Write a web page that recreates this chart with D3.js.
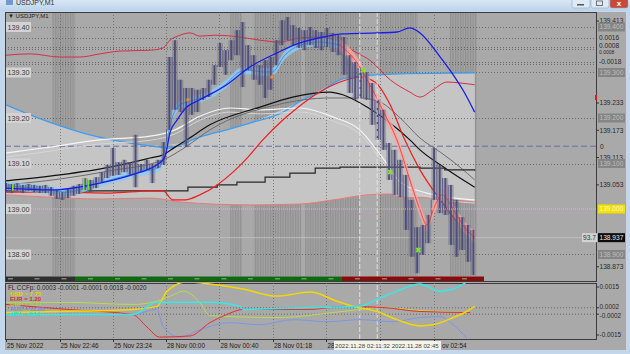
<!DOCTYPE html>
<html>
<head>
<meta charset="utf-8">
<script src="https://cdnjs.cloudflare.com/ajax/libs/d3/7.8.5/d3.min.js"></script>
<style>
html, body { margin: 0; padding: 0; background: #c7d9ec; }
svg { display: block; font-family: "Liberation Sans", Arial, sans-serif; }
</style>
</head>
<body>
<svg id="chart" width="630" height="354"></svg>
<script>
// ---- data (bar index 0..83, ~4 min per bar) ----
var barHigh = [139.057,139.055,139.057,139.053,139.055,139.053,139.051,139.053,139.048,139.042,
  139.037,139.046,139.051,139.055,139.068,139.064,139.070,139.081,139.097,139.134,
  139.103,139.108,139.103,139.163,139.099,139.108,139.099,139.108,139.147,139.334,
  139.371,139.284,139.266,139.266,139.262,139.266,139.284,139.316,139.365,139.349,
  139.371,139.393,139.411,139.360,139.338,139.316,139.327,139.334,139.371,139.415,
  139.422,139.404,139.398,139.393,139.400,139.393,139.389,139.398,139.387,139.382,
  139.378,139.338,139.323,139.310,139.301,139.277,139.240,139.218,139.145,139.130,
  139.108,139.075,139.020,138.960,138.965,138.987,139.134,139.097,139.068,139.053,
  139.020,138.982,138.965,138.954];
var barLow = [139.037,139.035,139.040,139.035,139.040,139.037,139.035,139.035,139.029,139.022,
  139.020,139.024,139.029,139.033,139.042,139.037,139.046,139.059,139.068,139.073,
  139.075,139.081,139.075,139.048,139.081,139.086,139.057,139.090,139.097,139.174,
  139.218,139.213,139.136,139.207,139.213,139.240,139.246,139.273,139.312,139.295,
  139.327,139.338,139.268,139.305,139.284,139.273,139.244,139.262,139.316,139.360,
  139.371,139.360,139.354,139.349,139.360,139.354,139.349,139.356,139.345,139.338,
  139.295,139.255,139.240,139.244,139.240,139.185,139.152,139.130,139.064,139.031,
  139.026,138.954,138.895,138.859,138.899,138.925,139.020,138.991,138.987,138.921,
  138.895,138.910,138.884,138.855];

// overlay lines: [bar index, price]
var bandUpper = [[0,139.229],[6.6,139.196],[14.9,139.163],[22,139.145],[27.3,139.136],[28.6,139.134],
  [34.4,139.158],[40.3,139.178],[43.3,139.189],[49.2,139.213],[52.7,139.240],[55.7,139.257],
  [59.3,139.284],[62.8,139.292],[70,139.297],[83.2,139.299]];
var bandLower = [[0,139.031],[7.8,139.026],[16.7,139.022],[25.6,139.024],[31.4,139.015],[43.3,139.009],
  [52.2,139.011],[58.1,139.020],[64.1,139.031],[68.2,139.033],[70,139.026],[75.8,139.024],[83.2,139.015]];
var redUpper = [[0,139.338],[4.3,139.341],[9.6,139.334],[13.1,139.334],[16.7,139.341],[20.2,139.347],
  [25.6,139.349],[27.9,139.354],[29.1,139.371],[30.5,139.380],[32.7,139.387],[34.4,139.380],
  [37.1,139.382],[41.5,139.378],[45.1,139.371],[48.6,139.367],[52.2,139.376],[55.7,139.378],
  [59.3,139.365],[62,139.345],[64.6,139.327],[68.2,139.284],[71.7,139.257],[73.5,139.246],
  [75.8,139.262],[78.3,139.279],[80.6,139.277],[83.2,139.273]];
var redSlow = [[0,139.037],[9.6,139.037],[18.5,139.035],[25.6,139.040],[27.9,139.040],[29.6,139.020],
  [31.8,139.020],[34.4,139.031],[37.5,139.053],[40.3,139.081],[42.8,139.112],[45.6,139.152],
  [49.2,139.196],[51.7,139.222],[55.7,139.257],[59.3,139.279],[62.8,139.290],[65.5,139.279],
  [68.2,139.229],[70.8,139.152],[73.5,139.086],[77.1,139.020],[80.6,138.965],[83.2,138.938]];
var maBlack = [[0,139.062],[9.6,139.075],[18.5,139.092],[25.6,139.112],[27.9,139.119],[30,139.136],
  [32.1,139.152],[36.2,139.185],[45.1,139.224],[50.9,139.246],[57.5,139.257],[59.8,139.251],
  [64.1,139.224],[68.2,139.189],[71.7,139.152],[73.5,139.130],[77.1,139.097],[80.6,139.068],[83.2,139.048]];
var maGray = [[0,139.053],[9.6,139.066],[18.5,139.084],[27.9,139.108],[32.1,139.138],[36.2,139.174],
  [48.1,139.229],[57.5,139.244],[62.8,139.244],[66.4,139.235],[70,139.200],[73.5,139.156],
  [77.1,139.125],[80.6,139.092],[83.2,139.064]];
var maWhite = [[0,139.123],[6.6,139.134],[16.7,139.152],[25.6,139.160],[30,139.174],[34.4,139.204],
  [39.8,139.222],[45.1,139.218],[52.2,139.222],[58.1,139.202],[62.8,139.174],[66.9,139.112],
  [70,139.059],[74.7,139.035],[83.2,139.020]];
var maSilver = [[0,139.114],[6.6,139.125],[16.7,139.143],[25.6,139.151],[30,139.165],[34.4,139.195],
  [39.8,139.213],[45.1,139.209],[52.2,139.213],[58.1,139.193],[62.8,139.165],[66.9,139.103],
  [70,139.050],[74.7,139.028],[83.2,139.013]];
var stepLine = [[0,139.040],[32.3,139.048],[37.5,139.053],[41,139.059],[46,139.070],[50.4,139.079],
  [54.9,139.090],[59.3,139.092],[73.5,139.090],[77.9,139.086],[83.2,139.084]];
var blueLine = [[0,139.046],[7.8,139.042],[16.7,139.057],[23.8,139.081],[26.8,139.097],[28.2,139.114],
  [29.1,139.167],[30.4,139.196],[32.1,139.224],[34.4,139.240],[39.2,139.273],[43.3,139.312],
  [48.1,139.343],[51.7,139.363],[56.3,139.378],[59.8,139.385],[65.9,139.387],[69.4,139.389],
  [71.7,139.398],[73.5,139.387],[77.1,139.334],[79.4,139.295],[81.1,139.262],[83.2,139.213]];
var blueRibbon = [[0,139.051],[4.3,139.046],[7.8,139.042],[10.8,139.037],[14.9,139.051],[18.5,139.064],
  [23.8,139.081],[27.3,139.092],[28.2,139.130],[29.5,139.200],[30.9,139.229],[33.6,139.240],
  [36.2,139.251],[38.9,139.273],[41.5,139.301],[43.3,139.305],[45.5,139.301],[47.2,139.301],
  [49.5,139.338],[52.2,139.360],[55.7,139.367],[59.3,139.360]];
var salmonRibbon = [[59.3,139.360],[62,139.327],[64.6,139.273],[67.3,139.207],[69.4,139.152],
  [71.7,139.064],[73.5,138.998],[74.7,138.965],[76.2,139.009],[77.4,139.031],[79.7,138.993],
  [81.5,138.958],[83.2,138.938]];
var greenMarks = [[63.4,139.305],[68.2,139.081],[73.2,138.910]];
var greenBars = [[1.2,139.055,139.040],[13.8,139.068,139.040],[14.6,139.064,139.042]];
var orangeMarks = [[32.3,139.240],[47.2,139.290]];

// session shading (bar index ranges)
var shadeRanges = [[8.2,12.3],[39.8,41.9],[44,52.4],[53.1,62.7],[66.4,73.1],[78.8,83.6]];

// price levels
var leftLabels = [139.40, 139.30, 139.20, 139.10, 139.00, 138.90];
var rightPlain = [139.413, 139.233, 139.173, 139.113, 139.053, 138.873];
var rightBoxed = [139.400, 139.300, 139.200, 139.100, 138.900];
var levelPrice = 139.000, bidPrice = 138.937, zeroLevel = 139.138;
var overlayLevels = [139.376, 139.356, 139.352, 139.323, 139.319];
var overlayLabels = ["0.0016", "0.0008", "0.0008", "-0.0018", ""];

// time axis (visible text only; the tooltip hides the rest)
var timeTicks = [0, 9.5, 19, 28.4, 37.9, 47.4, 56.9, 66.4, 75.9];
var timeLabels = ["25 Nov 2022", "25 Nov 22:46", "25 Nov 23:24", "28 Nov 00:00", "28 Nov 00:40",
  "28 Nov 01:18", "28", "", "ov 02:54"];
var tooltipText = "2022.11.28 02:11:32 2022.11.28 02:45";
var vlines = [62.8, 65.9];

// CCFp indicator: [bar index, value]
var ccfUSD = [[0,-0.0001],[9.6,-0.00003],[22.5,0.0001],[26.8,0.00029],[28.6,0.00124],[32.1,0.00182],
  [36.2,0.00169],[42.1,0.00137],[48.1,0.00093],[54,0.00118],[58.8,0.00061],[61.6,0.00029],
  [65.9,-0.00003],[69.4,-0.00054],[73.5,-0.00093],[75.8,-0.00086],[79.4,-0.00041],[81.8,-0.00003],[83.2,0.00029]];
var ccfEUR = [[0,0.00041],[10.8,0.0001],[22.5,-0.00022],[25,-0.00099],[27.3,-0.00163],[32.7,-0.00156],
  [36.2,-0.00073],[39.2,-0.00022],[42.1,0.0001],[54,0.0001],[59.8,0.00029],[66.9,0.00022],
  [73.5,-0.00003],[82.4,-0.0001]];
var ccfGBP = [[0,0.00054],[10.8,0.00054],[22.5,0.00041],[26.8,0.00061],[30,0.00105],[31.4,0.00124],
  [34.4,0.00054],[36.2,-0.00029],[48.1,-0.00041],[59.8,-0.00003],[66.9,0.00022],[73.5,0.00003],[82.4,-0.0001]];
var ccfAUD = [[0,-0.00022],[22.5,-0.00022],[26.8,0.0001],[27.9,-0.00099],[30.9,-0.00163],[34.4,-0.00118],
  [39.8,-0.00073],[45.1,-0.00086],[50.9,-0.00054],[57,-0.00067],[62.8,-0.00054],[68.7,-0.00067],
  [73.5,-0.00041],[77.1,-0.00035],[79.4,-0.00086],[81.8,-0.00169]];
var ccfJPY = [[0,-0.00022],[22.5,-0.00022],[26.8,0.00054],[36.2,0.00054],[41.5,0.00029],[42.1,0.0001],
  [54,0.00022],[62.8,0.00029],[65.9,0.00073],[69.4,0.00124],[73.5,0.00169],[77.1,0.00124],
  [79.4,0.00137],[81.8,0.00182]];
var ccfNames = ["USD = 7.75", "EUR = 1.20", "GBP = 6.14", "AUD = 11.80", "JPY = 4.10"];
var ccfColors = ["#f5d800", "#f02828", "#b8dc50", "#7c96e6", "#36e8e8"];
var ccfTicks = [0.0015, 0.0002, -0.0002, -0.0015];

// ---- drawing ----
var svg = d3.select("#chart");
var L = 5, R = 596, T = 12, B = 281, IT = 283, IB = 339;

var x = d3.scaleLinear().domain([0, 83]).range([6, 473.5]);
var y = d3.scaleLinear().domain([139.0, 139.4]).range([209, 27]);
var yi = d3.scaleLinear().domain([-0.0015, 0.0015]).range([335, 287]);

// window frame + title bar
var defs = svg.append("defs");
var grad = defs.append("linearGradient").attr("id", "tb").attr("x1", 0).attr("x2", 0).attr("y1", 0).attr("y2", 1);
grad.append("stop").attr("offset", 0).attr("stop-color", "#d9e7f5");
grad.append("stop").attr("offset", 1).attr("stop-color", "#bcd2ea");
svg.append("rect").attr("width", 630).attr("height", 354).attr("fill", "#c3d7ec");
svg.append("rect").attr("width", 630).attr("height", 11).attr("fill", "url(#tb)");
svg.append("text").attr("x", 16).attr("y", 5).attr("font-size", 7).attr("fill", "#333").text("USDJPY,M1");
svg.append("rect").attr("x", 6).attr("y", -1).attr("width", 7).attr("height", 6).attr("fill", "#6f9bd0");
[[572, "#dfe9f5"], [591, "#dfe9f5"], [610, "#c9483a"]].forEach(function(b) {
  svg.append("rect").attr("x", b[0]).attr("y", -2).attr("width", 18).attr("height", 10).attr("rx", 2)
    .attr("fill", b[1]).attr("stroke", "#8ea7c4").attr("stroke-width", 0.6);
});
svg.append("rect").attr("x", 577).attr("y", 4).attr("width", 7).attr("height", 1.5).attr("fill", "#555");
svg.append("rect").attr("x", 596.5).attr("y", 1).attr("width", 6).attr("height", 4.5).attr("fill", "none").attr("stroke", "#555").attr("stroke-width", 0.8);
svg.append("text").attr("x", 619).attr("y", 6).attr("text-anchor", "middle").attr("font-size", 8)
  .attr("font-weight", "bold").attr("fill", "#fff").text("x");

// chart area background
svg.append("rect").attr("x", L).attr("y", T).attr("width", 621).attr("height", 338).attr("fill", "#a9a9a9");

var pat = defs.append("pattern").attr("id", "stripes").attr("patternUnits", "userSpaceOnUse")
  .attr("width", 2.5).attr("height", 10);
pat.append("rect").attr("width", 2.5).attr("height", 10).attr("fill", "#a2a2a2");
pat.append("rect").attr("width", 1.2).attr("height", 10).attr("fill", "#929292");
defs.append("clipPath").attr("id", "mainClip").append("rect")
  .attr("x", L).attr("y", T).attr("width", R - L).attr("height", 264);
defs.append("clipPath").attr("id", "indClip").append("rect")
  .attr("x", L).attr("y", IT).attr("width", R - L).attr("height", IB - IT);

var main = svg.append("g").attr("clip-path", "url(#mainClip)");

// session shading
main.selectAll("rect.shade").data(shadeRanges).enter().append("rect")
  .attr("x", function(d) { return x(d[0]); }).attr("y", T)
  .attr("width", function(d) { return x(d[1]) - x(d[0]); }).attr("height", 264)
  .attr("fill", "url(#stripes)");

// envelope fill between bands
var upperFn = d3.scaleLinear().domain(bandUpper.map(function(d) { return d[0]; })).range(bandUpper.map(function(d) { return d[1]; }));
main.append("path")
  .datum(bandLower)
  .attr("fill", "#c5c5c5")
  .attr("d", d3.area().x(function(d) { return x(d[0]); })
    .y0(function(d) { return y(d[1]); })
    .y1(function(d) { return y(upperFn(d[0])); }).curve(d3.curveMonotoneX));
main.append("path")
  .datum(bandUpper)
  .attr("fill", "#c5c5c5")
  .attr("d", d3.area().x(function(d) { return x(d[0]); })
    .y0(function(d) { return y(139.05); })
    .y1(function(d) { return y(d[1]); }).curve(d3.curveMonotoneX));

// horizontal grid + levels
function hline(g, yy, color, dash, w) {
  g.append("line").attr("x1", L).attr("x2", R).attr("y1", yy).attr("y2", yy)
    .attr("stroke", color).attr("stroke-dasharray", dash).attr("stroke-width", w || 0.8);
}
leftLabels.forEach(function(p) { if (p !== levelPrice) hline(main, Math.round(y(p)) + 0.5, "#5e5e5e", "1,2"); });
overlayLevels.forEach(function(p) { hline(main, Math.round(y(p)) + 0.5, "#5e5e5e", "1,2"); });
hline(main, y(zeroLevel), "#6b6ba8", "6,3", 1);
hline(main, y(bidPrice), "#c4c4c4", null, 0.8);

// vertical grid
timeTicks.slice(1).forEach(function(t) {
  main.append("line").attr("x1", Math.round(x(t)) + 0.5).attr("x2", Math.round(x(t)) + 0.5)
    .attr("y1", T).attr("y2", 276).attr("stroke", "#6a6a6a").attr("stroke-dasharray", "1,2").attr("stroke-width", 0.8);
});
vlines.forEach(function(t) {
  svg.append("line").attr("x1", x(t)).attr("x2", x(t)).attr("y1", T).attr("y2", IB)
    .attr("stroke", "#e6e6e6").attr("stroke-dasharray", "5,2").attr("stroke-width", 0.9);
});

var pline = d3.line().x(function(d) { return x(d[0]); }).y(function(d) { return y(d[1]); });
function drawLine(data, color, w, curve) {
  main.append("path").datum(data).attr("fill", "none").attr("stroke", color).attr("stroke-width", w)
    .attr("d", pline.curve(curve || d3.curveMonotoneX)(data));
}

drawLine(bandLower, "#e77a7a", 1);
drawLine(bandUpper, "#3d9df0", 1.3);
drawLine(maSilver, "#d6d6d6", 1);
drawLine(maWhite, "#f5f5f5", 1.2);
drawLine(maGray, "#6c6c6c", 1);
drawLine(maBlack, "#111", 1.2);
drawLine(stepLine, "#262626", 1.2, d3.curveStepAfter);
drawLine(redUpper, "#d43048", 1);
drawLine(redSlow, "#ee1e1e", 1.2);

// ribbons
function ribbon(data, fill, edge, hw) {
  var a = d3.area().x(function(d) { return x(d[0]); })
    .y0(function(d) { return y(d[1]) + hw; }).y1(function(d) { return y(d[1]) - hw; }).curve(d3.curveMonotoneX);
  main.append("path").datum(data).attr("fill", fill).attr("opacity", 0.85).attr("d", a);
  drawLine(data, edge, 1);
}
ribbon(blueRibbon, "#8fcaf2", "#3f96de", 4);
ribbon(salmonRibbon, "#f6a6a0", "#ef4b4b", 6);

// candles (high-low bars), with the price range filled between bars
var bars = barHigh.map(function(h, k) { return { i: k, h: h, l: barLow[k] }; });
main.append("path").datum(bars)
  .attr("fill", "#5c5c82").attr("opacity", 0.35)
  .attr("d", d3.area().x(function(d) { return x(d.i); })
    .y0(function(d) { return y(d.l); }).y1(function(d) { return y(d.h); }).curve(d3.curveStep));
main.selectAll("line.mid").data(bars.slice(1)).enter().append("line")
  .attr("x1", function(d) { return x(d.i - 0.5); }).attr("x2", function(d) { return x(d.i - 0.5); })
  .attr("y1", function(d) { return y(Math.min(d.h, barHigh[d.i - 1])); })
  .attr("y2", function(d) { return y(Math.max(d.l, barLow[d.i - 1])); })
  .attr("stroke", "#62628a").attr("stroke-width", 1);
main.selectAll("rect.bar").data(bars).enter().append("rect")
  .attr("x", function(d) { return x(d.i) - 0.9; }).attr("width", 1.8)
  .attr("y", function(d) { return y(d.h); })
  .attr("height", function(d) { return Math.max(1, y(d.l) - y(d.h)); })
  .attr("fill", "#4e4e76");

drawLine(blueLine, "#1c1ce8", 1.3);

// markers
main.selectAll("rect.gb").data(greenBars).enter().append("rect")
  .attr("x", function(d) { return x(d[0]) - 0.8; }).attr("width", 1.6)
  .attr("y", function(d) { return y(d[1]); })
  .attr("height", function(d) { return y(d[2]) - y(d[1]); }).attr("fill", "#6fe03a");
main.selectAll("path.gm").data(greenMarks).enter().append("path")
  .attr("d", d3.symbol().type(d3.symbolCross).size(18))
  .attr("transform", function(d) { return "translate(" + x(d[0]) + "," + y(d[1]) + ") rotate(45)"; })
  .attr("fill", "#7fe52a");
main.selectAll("rect.om").data(orangeMarks).enter().append("rect")
  .attr("x", function(d) { return x(d[0]) - 1.5; }).attr("y", function(d) { return y(d[1]) - 1.5; })
  .attr("width", 3).attr("height", 3).attr("fill", "#ff8a1a");

hline(main, y(levelPrice), "#ecd400", "1,1", 1);

// bottom colour strip
var strip = [[L, 75, "#2f2f2f"], [75, 342, "#0e6a0e"], [342, 484, "#8a0b0b"]];
strip.forEach(function(s) {
  svg.append("rect").attr("x", s[0]).attr("y", 276.5).attr("width", s[1] - s[0]).attr("height", 4.5).attr("fill", s[2]);
});
timeTicks.concat([4.7, 14.2, 23.7, 33.1, 42.6, 52.1, 61.6, 71.1, 80.6]).forEach(function(t) {
  if (x(t) + 8 < 484) svg.append("rect").attr("x", x(t) + 2).attr("y", 278).attr("width", 5).attr("height", 1.5).attr("fill", "#9aa59a").attr("opacity", 0.7);
});

// left price labels
leftLabels.forEach(function(p) {
  var yy = y(p);
  svg.append("rect").attr("x", L + 1).attr("y", yy - 5).attr("width", 25).attr("height", 10).attr("fill", "#d3d3d3");
  svg.append("text").attr("x", L + 2.5).attr("y", yy + 2.6).attr("font-size", 7.2).attr("fill", "#3a3a3a").text(p.toFixed(2));
});
svg.append("text").attr("x", 8).attr("y", 18).attr("font-size", 6).attr("fill", "#1e1e1e").text("\u25BC USDJPY,M1");

// panel borders + right axis
svg.append("rect").attr("x", L + 0.5).attr("y", T + 0.5).attr("width", R - L).attr("height", B - T)
  .attr("fill", "none").attr("stroke", "#3c3c3c").attr("stroke-width", 1);
svg.append("rect").attr("x", L + 0.5).attr("y", IT + 0.5).attr("width", R - L).attr("height", IB - IT)
  .attr("fill", "none").attr("stroke", "#3c3c3c").attr("stroke-width", 1);

var axisG = svg.append("g");
rightPlain.forEach(function(p) {
  axisG.append("line").attr("x1", R).attr("x2", R + 3).attr("y1", y(p)).attr("y2", y(p)).attr("stroke", "#333");
  axisG.append("text").attr("x", R + 3.5).attr("y", y(p) + 2.3).attr("font-size", 6.6).attr("fill", "#2a2a2a").text(p.toFixed(3));
});
function boxLabel(p, bg, fg, txt) {
  axisG.append("rect").attr("x", R + 2).attr("y", y(p) - 4.5).attr("width", 27).attr("height", 9).attr("fill", bg);
  axisG.append("text").attr("x", R + 3.5).attr("y", y(p) + 2.3).attr("font-size", 6.6).attr("fill", fg).text(txt || p.toFixed(3));
}
rightBoxed.forEach(function(p) { boxLabel(p, "#858585", "#bdbdbd"); });
boxLabel(levelPrice, "#f2e000", "#fffbd0");
boxLabel(bidPrice, "#0c0c0c", "#e8e8e8");
axisG.append("rect").attr("x", 582).attr("y", y(bidPrice) - 4.5).attr("width", 15).attr("height", 9).attr("fill", "#d2d2d2");
axisG.append("text").attr("x", 583).attr("y", y(bidPrice) + 2.3).attr("font-size", 6.6).attr("fill", "#333").text("93.7");
var overlayDy = [2.3, 1.2, 5.2, 2.3, 0];
overlayLevels.forEach(function(p, k) {
  if (overlayLabels[k]) axisG.append("text").attr("x", R + 3).attr("y", y(p) + overlayDy[k])
    .attr("font-size", k === 2 ? 5 : 6.6).attr("fill", "#2a2a2a").text(overlayLabels[k]);
});
axisG.append("text").attr("x", R + 4).attr("y", y(zeroLevel) + 2.3).attr("font-size", 6.6).attr("fill", "#2a2a2a").text("0");
axisG.append("rect").attr("x", R - 1).attr("y", 95).attr("width", 2).attr("height", 5).attr("fill", "#e01818");

// ---- indicator panel ----
var ind = svg.append("g").attr("clip-path", "url(#indClip)");
[0.0002, -0.0002].forEach(function(v) {
  ind.append("line").attr("x1", L).attr("x2", R).attr("y1", yi(v)).attr("y2", yi(v))
    .attr("stroke", "#555").attr("stroke-dasharray", "1,2").attr("stroke-width", 0.8);
});
timeTicks.slice(1).forEach(function(t) {
  ind.append("line").attr("x1", Math.round(x(t)) + 0.5).attr("x2", Math.round(x(t)) + 0.5)
    .attr("y1", IT).attr("y2", IB).attr("stroke", "#6a6a6a").attr("stroke-dasharray", "1,2").attr("stroke-width", 0.8);
});
var iline = d3.line().x(function(d) { return x(d[0]); }).y(function(d) { return yi(d[1]); }).curve(d3.curveMonotoneX);
var ccfSeries = [ccfUSD, ccfEUR, ccfGBP, ccfAUD, ccfJPY];
[3, 2, 1, 0, 4].forEach(function(k) {
  ind.append("path").datum(ccfSeries[k]).attr("fill", "none").attr("stroke", ccfColors[k])
    .attr("stroke-width", (k === 0 || k === 4) ? 1.5 : 1).attr("d", iline);
});
svg.append("text").attr("x", 8).attr("y", 290).attr("font-size", 6.3).attr("fill", "#2a2a2a")
  .text("FL CCFp: 0.0003 -0.0001 -0.0001 0.0018 -0.0020");
ccfNames.forEach(function(n, k) {
  svg.append("text").attr("x", 10).attr("y", 296 + k * 5.1).attr("font-size", 6).attr("font-weight", "bold")
    .attr("fill", ccfColors[k]).attr("stroke", "rgba(90,90,0,0.25)").attr("stroke-width", 0.2).text(n);
});
ccfTicks.forEach(function(v) {
  svg.append("line").attr("x1", R).attr("x2", R + 3).attr("y1", yi(v)).attr("y2", yi(v)).attr("stroke", "#333");
  svg.append("text").attr("x", R + 3.5).attr("y", yi(v) + (v === 0.0002 ? 1.5 : v === -0.0002 ? 3.3 : 2.3))
    .attr("font-size", 6.4).attr("fill", "#2a2a2a").text(v.toFixed(4));
});

// ---- time axis ----
timeTicks.forEach(function(t, k) {
  svg.append("line").attr("x1", Math.round(x(t)) + 0.5).attr("x2", Math.round(x(t)) + 0.5).attr("y1", IB).attr("y2", IB + 3).attr("stroke", "#333");
  if (timeLabels[k]) svg.append("text").attr("x", k === 8 ? 442 : x(t) + 1).attr("y", 347.5)
    .attr("font-size", 6.4).attr("fill", "#222").text(timeLabels[k]);
});
svg.append("rect").attr("x", 334).attr("y", 341).attr("width", 107).attr("height", 9).attr("fill", "#f3f3ea");
svg.append("text").attr("x", 335).attr("y", 347.5).attr("font-size", 6.1).attr("fill", "#444").text(tooltipText);
</script>
</body>
</html>
